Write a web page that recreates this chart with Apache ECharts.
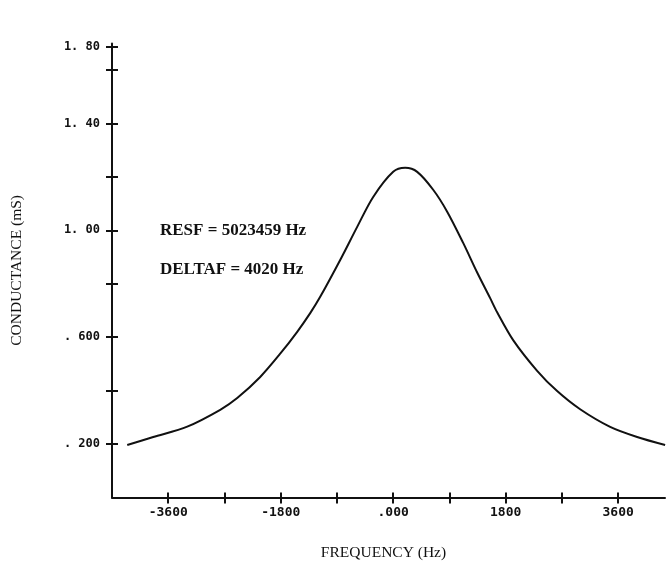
<!DOCTYPE html>
<html>
<head>
<meta charset="utf-8">
<script src="https://cdn.jsdelivr.net/npm/echarts@6/dist/echarts.min.js"></script>
<style>
  html, body { margin: 0; padding: 0; background: #fff; }
  #chart { width: 666px; height: 571px; }
</style>
</head>
<body>
<div id="chart"></div>
<script>
// frequency offset (Hz) and conductance (mS)
const freq = [-4256, -3840, -3296, -2768, -2496, -2128, -1808, -1536, -1328, -1168,
  -848, -576, -320, 0, 192, 384, 640, 864, 1120, 1344, 1552, 1664, 1920, 2304,
  2624, 2992, 3472, 3904, 4352];
const conductance = [0.196, 0.226, 0.265, 0.328, 0.372, 0.451, 0.538, 0.620, 0.690, 0.751,
  0.889, 1.013, 1.125, 1.219, 1.234, 1.219, 1.152, 1.070, 0.953, 0.842, 0.746, 0.693, 0.589, 0.474,
  0.398, 0.330, 0.264, 0.226, 0.196];

const xTicks = [-3600, -2700, -1800, -900, 0, 900, 1800, 2700, 3600];
const xLabels = [-3600, -1800, 0, 1800, 3600];
const xLabelText = { '-3600': '-3600', '-1800': '-1800', '0': '.000', '1800': '1800', '3600': '3600' };

const yTicks = [0.2, 0.4, 0.6, 0.8, 1.0, 1.2, 1.4, 1.6, 1.687];
const yLabels = [0.2, 0.6, 1.0, 1.4, 1.687];
const yLabelText = { '0.2': '. 200', '0.6': '. 600', '1': '1. 00', '1.4': '1. 40', '1.687': '1. 80' };

const chart = echarts.init(document.getElementById('chart'));

const tickFont = { fontFamily: 'DejaVu Sans Mono', fontWeight: 'bold', color: '#111' };
const nameFont = { fontFamily: 'Liberation Serif', fontSize: 15.5, color: '#111' };
const gridW = 553;
const gridH = 454;

const option = {
  animation: false,
  backgroundColor: '#fff',
  grid: { left: 112, right: 1, top: 43.4, bottom: 73.6, containLabel: false, outerBoundsMode: 'none' },
  xAxis: [
    {
      type: 'value',
      min: -4500,
      max: 4350,
      position: 'bottom',
      name: 'FREQUENCY (Hz)',
      nameLocation: 'middle',
      nameGap: 48,
      nameTextStyle: Object.assign({ padding: [0, 10, 0, 0] }, nameFont),
      axisLine: { show: true, onZero: false, lineStyle: { color: '#111', width: 2 } },
      axisTick: { show: true, length: 6, customValues: xTicks, lineStyle: { color: '#111', width: 2 } },
      axisLabel: {
        show: true, margin: 9, fontSize: 13, customValues: xLabels, ...tickFont,
        formatter: v => xLabelText[String(v)] || ''
      },
      splitLine: { show: false }
    },
    {
      // top-side axis shifted down onto the bottom one, so the ticks cross the line
      type: 'value',
      min: -4500,
      max: 4350,
      position: 'top',
      offset: -gridH,
      axisLine: { show: false, onZero: false },
      axisTick: { show: true, length: 5, customValues: xTicks, lineStyle: { color: '#111', width: 2 } },
      axisLabel: { show: false },
      splitLine: { show: false }
    }
  ],
  yAxis: [
    {
      type: 'value',
      min: 0,
      max: 1.70,
      position: 'left',
      name: 'CONDUCTANCE (mS)',
      nameLocation: 'middle',
      nameGap: 87,
      nameTextStyle: nameFont,
      axisLine: { show: true, onZero: false, lineStyle: { color: '#111', width: 2 } },
      axisTick: { show: true, length: 6, customValues: yTicks, lineStyle: { color: '#111', width: 2 } },
      axisLabel: {
        show: true, margin: 12, fontSize: 12, customValues: yLabels, ...tickFont,
        formatter: v => yLabelText[String(Math.round(v * 1000) / 1000)] || ''
      },
      splitLine: { show: false }
    },
    {
      type: 'value',
      min: 0,
      max: 1.70,
      position: 'right',
      offset: -gridW,
      axisLine: { show: false, onZero: false },
      axisTick: { show: true, length: 6, customValues: yTicks, lineStyle: { color: '#111', width: 2 } },
      axisLabel: { show: false },
      splitLine: { show: false }
    }
  ],
  graphic: [
    { type: 'text', left: 160, top: 222, style: { text: 'RESF = 5023459 Hz', font: 'bold 17px "Liberation Serif"', fill: '#111' } },
    { type: 'text', left: 160, top: 261, style: { text: 'DELTAF = 4020 Hz', font: 'bold 17px "Liberation Serif"', fill: '#111' } }
  ],
  series: [
    {
      type: 'line',
      data: freq.map((f, i) => [f, conductance[i]]),
      smooth: 0.3,
      showSymbol: false,
      lineStyle: { color: '#111', width: 2 }
    }
  ]
};

chart.setOption(option);
window.addEventListener('resize', () => chart.resize(), { passive: true });
</script>
</body>
</html>
